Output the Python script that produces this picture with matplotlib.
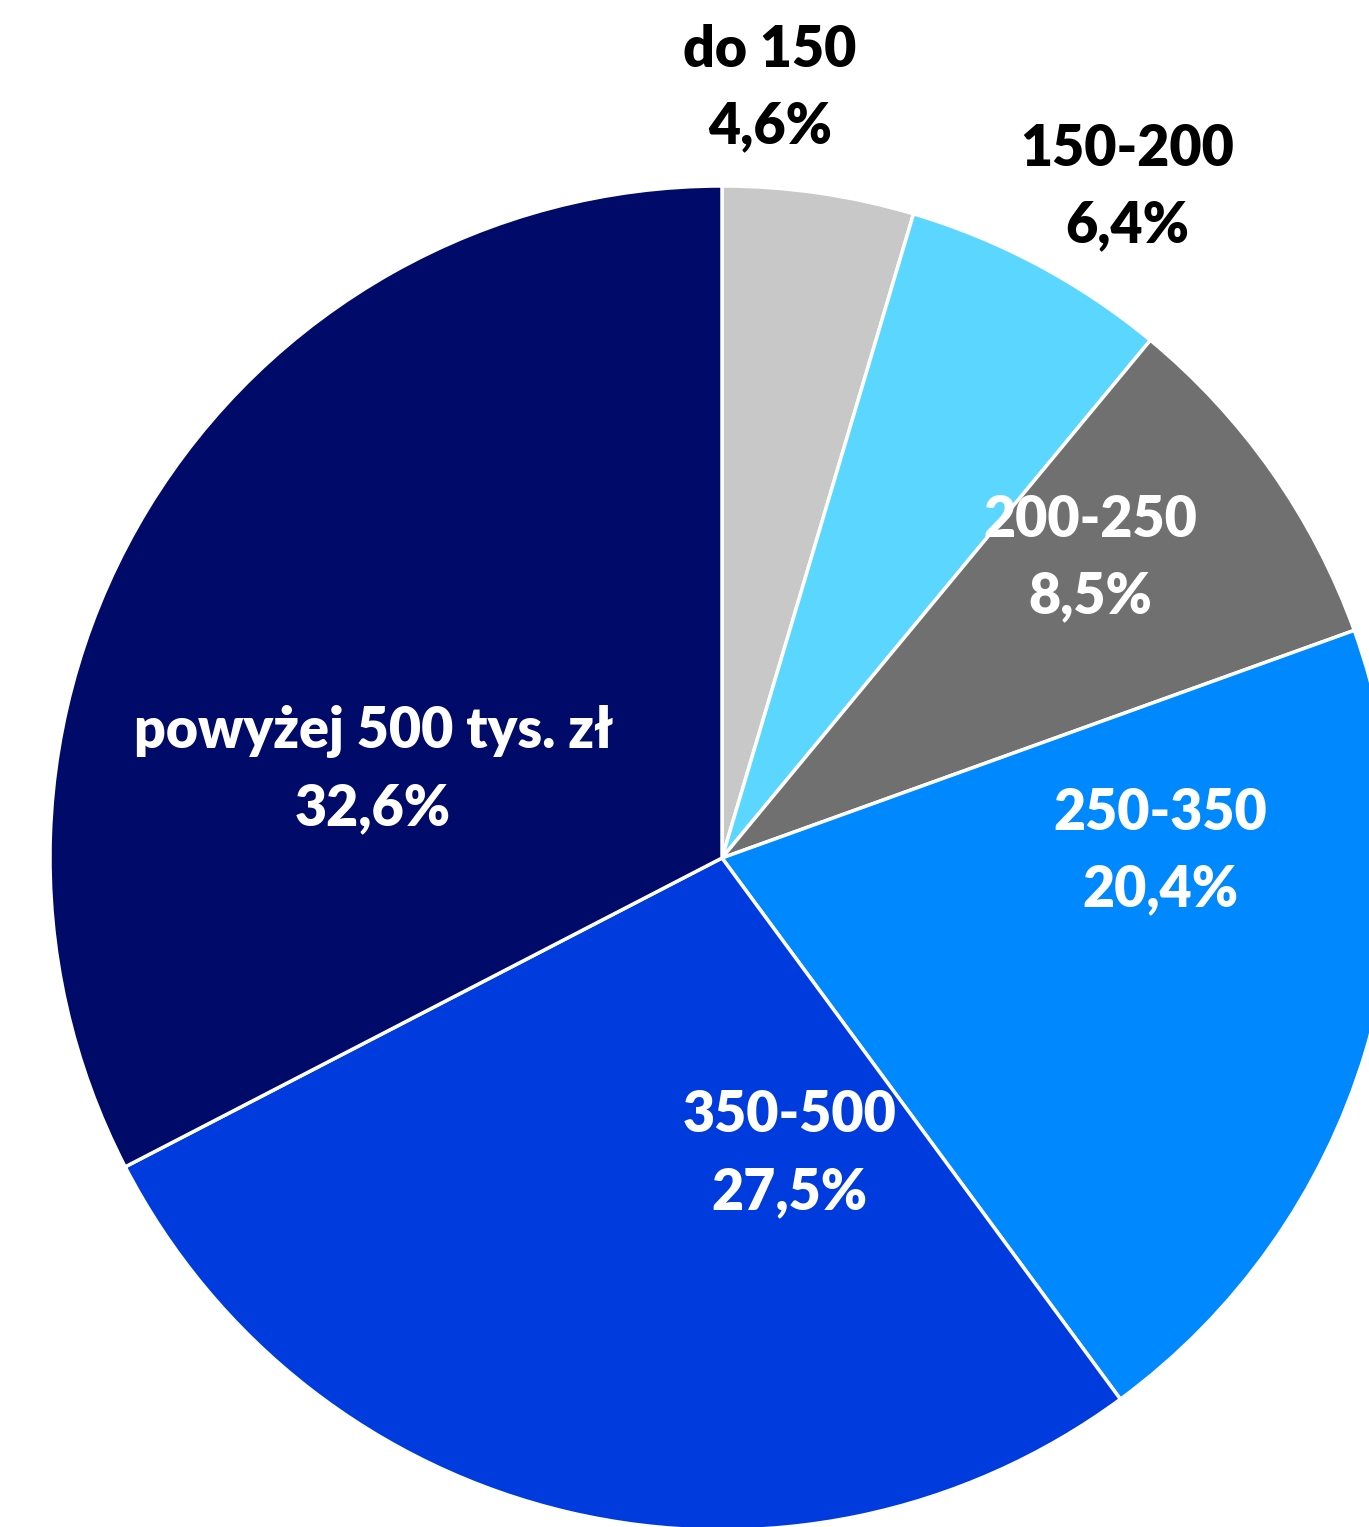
import matplotlib
matplotlib.use("Agg")
import matplotlib.pyplot as plt

categories = ["do 150", "150-200", "200-250", "250-350", "350-500", "powyżej 500 tys. zł"]
shares = [4.6, 6.4, 8.5, 20.4, 27.5, 32.6]
value_labels = ["4,6%", "6,4%", "8,5%", "20,4%", "27,5%", "32,6%"]
colors = ["#C8C8C8", "#5BD7FF", "#707070", "#0088FF", "#003CDD", "#000A69"]
text_colors = ["black", "black", "white", "white", "white", "white"]
# label centers in data coords (pie radius = 1)
label_pos = [(0.071, 1.146), (0.603, 0.998), (0.548, 0.446), (0.652, 0.010), (0.101, -0.440), (-0.519, 0.132)]

W, H = 1369, 1527
cx, cy, R = 722, 858, 672
fig = plt.figure(figsize=(W / 100, H / 100), dpi=100)
ax = fig.add_axes([0, 0, 1, 1])
ax.pie(shares, colors=colors, startangle=90, counterclock=False, radius=1,
       wedgeprops=dict(edgecolor="white", linewidth=2.5))
ax.set_xlim(-cx / R, (W - cx) / R)
ax.set_ylim(-(H - cy) / R, cy / R)
ax.set_aspect("equal")
ax.axis("off")

for cat, val, (x, y), tc in zip(categories, value_labels, label_pos, text_colors):
    ax.text(x, y, f"{cat}\n{val}", ha="center", va="center", color=tc,
            fontsize=40, fontweight="heavy", family=["Lato", "DejaVu Sans"],
            linespacing=1.57)

fig.savefig("out.png", dpi=100)
